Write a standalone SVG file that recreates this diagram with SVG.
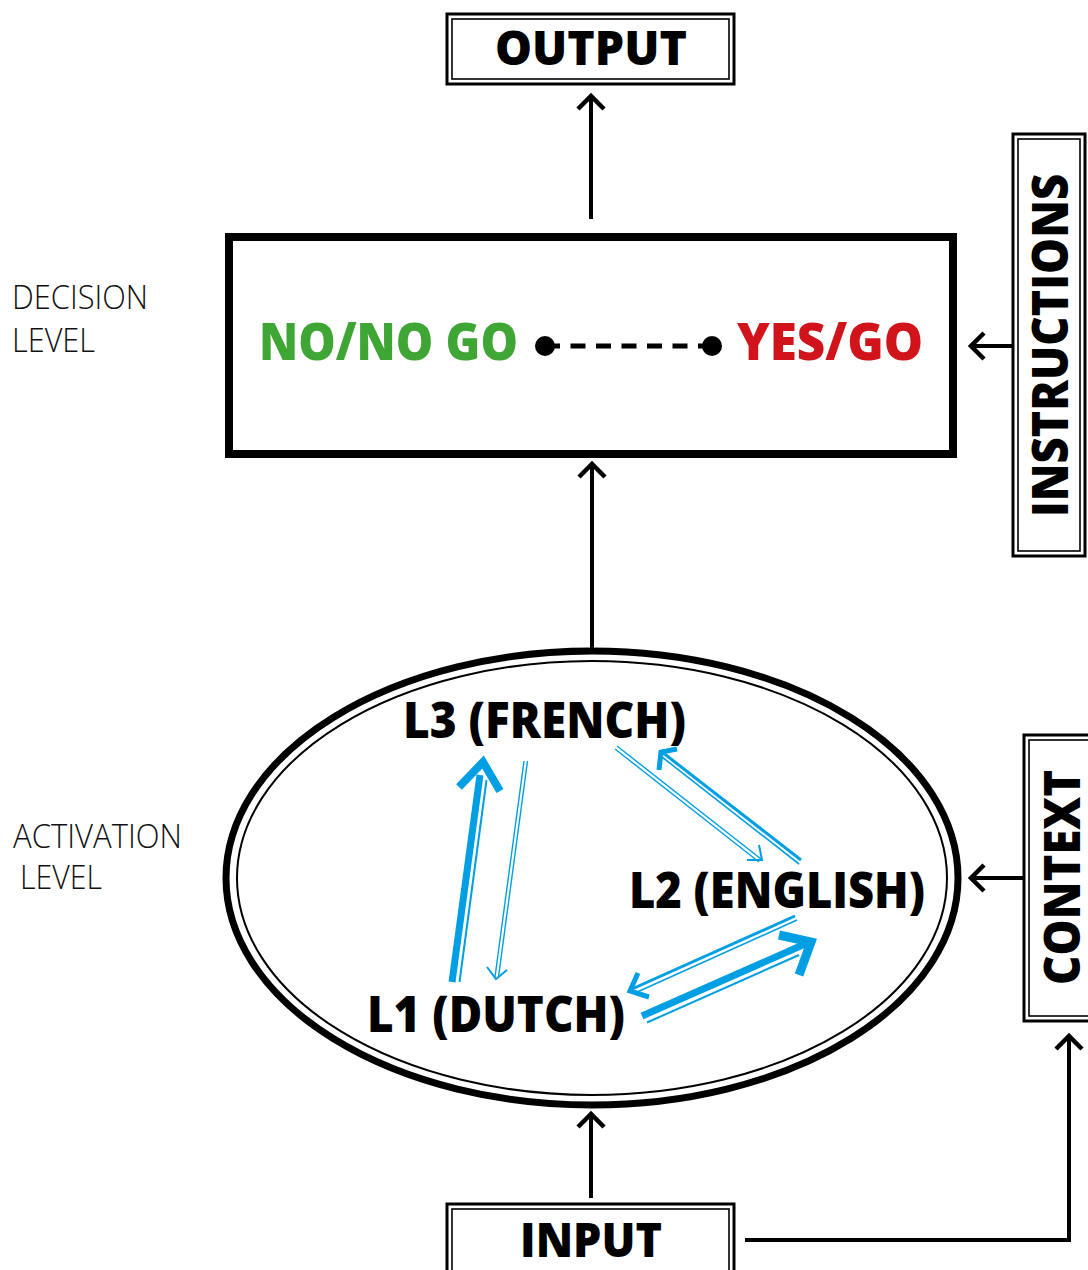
<svg xmlns="http://www.w3.org/2000/svg" width="1088" height="1270" viewBox="0 0 1088 1270">
<style>
.bold{font-family:"Open Sans","Liberation Sans",sans-serif;font-weight:800;fill:#000}
.light{font-family:"Open Sans","Lato","Liberation Sans",sans-serif;font-weight:300;font-size:33px;fill:#111}
.outer{fill:#fff;stroke:#000;stroke-width:3}
.inner{fill:none;stroke:#000;stroke-width:1.6}
.conn{fill:none;stroke:#000;stroke-width:4}
.head{fill:none;stroke:#000;stroke-width:4.5;stroke-linecap:butt;stroke-linejoin:miter}
.blue{fill:none;stroke:#009fe3;stroke-linecap:butt;stroke-linejoin:miter}
</style>
<rect width="1088" height="1270" fill="#fff"/>

<g id="connectors">
  <line class="conn" x1="591" y1="219" x2="591" y2="97"/>
  <polyline class="head" points="578,109 591,96 604,109"/>
  <line class="conn" x1="592" y1="648" x2="592" y2="465"/>
  <polyline class="head" points="579,477 592,464 605,477"/>
  <line class="conn" x1="1012" y1="346" x2="972" y2="346"/>
  <polyline class="head" points="984,333 971,346 984,359"/>
  <line class="conn" x1="1024" y1="878" x2="972" y2="878"/>
  <polyline class="head" points="984,865 971,878 984,891"/>
  <line class="conn" x1="591" y1="1198" x2="591" y2="1115"/>
  <polyline class="head" points="578,1127 591,1114 604,1127"/>
  <polyline class="conn" points="745,1240 1069,1240 1069,1037"/>
  <polyline class="head" points="1056,1049 1069,1036 1082,1049"/>
</g>

<g id="output">
  <rect class="outer" x="447" y="14" width="287" height="70"/>
  <rect class="inner" x="452" y="19" width="277" height="60"/>
  <text class="bold" x="495" y="65" font-size="48" textLength="192" lengthAdjust="spacingAndGlyphs">OUTPUT</text>
</g>

<g id="decision">
  <rect x="229" y="237" width="724" height="217" fill="#fff" stroke="#000" stroke-width="8"/>
  <text class="bold" x="259" y="360" font-size="52" style="fill:#3fa535" textLength="259" lengthAdjust="spacingAndGlyphs">NO/NO GO</text>
  <text class="bold" x="737" y="360" font-size="52" style="fill:#d1141b" textLength="186" lengthAdjust="spacingAndGlyphs">YES/GO</text>
  <line x1="545" y1="346" x2="712" y2="346" stroke="#000" stroke-width="5" stroke-dasharray="15 10.5"/>
  <circle cx="545" cy="346" r="10" fill="#000"/>
  <circle cx="712" cy="346" r="10" fill="#000"/>
</g>

<g id="decision-label">
  <text class="light" x="12" y="309" textLength="136" lengthAdjust="spacingAndGlyphs">DECISION</text>
  <text class="light" x="12" y="352" textLength="83" lengthAdjust="spacingAndGlyphs">LEVEL</text>
</g>

<g id="activation-label">
  <text class="light" x="13" y="848" textLength="169" lengthAdjust="spacingAndGlyphs">ACTIVATION</text>
  <text class="light" x="20" y="889" textLength="82" lengthAdjust="spacingAndGlyphs">LEVEL</text>
</g>

<g id="instructions">
  <rect class="outer" x="1013" y="134" width="72" height="422"/>
  <rect class="inner" x="1018" y="139" width="62" height="412"/>
  <text class="bold" transform="translate(1068,517) rotate(-90)" font-size="50" textLength="343" lengthAdjust="spacingAndGlyphs">INSTRUCTIONS</text>
</g>

<g id="context">
  <rect class="outer" x="1024" y="735" width="80" height="286"/>
  <rect class="inner" x="1029" y="740" width="70" height="276"/>
  <text class="bold" transform="translate(1080,985) rotate(-90)" font-size="50" textLength="215" lengthAdjust="spacingAndGlyphs">CONTEXT</text>
</g>

<g id="activation">
  <ellipse cx="592" cy="878" rx="366" ry="227" fill="#fff" stroke="#000" stroke-width="7"/>
  <ellipse cx="592" cy="878" rx="355" ry="217" fill="none" stroke="#000" stroke-width="2"/>
</g>

<g id="l3">
  <text class="bold" x="403" y="738" font-size="49" textLength="283" lengthAdjust="spacingAndGlyphs">L3 (FRENCH)</text>
</g>
<g id="l2">
  <text class="bold" x="629" y="908" font-size="49" textLength="296" lengthAdjust="spacingAndGlyphs">L2 (ENGLISH)</text>
</g>
<g id="l1">
  <text class="bold" x="367" y="1032" font-size="49" textLength="258" lengthAdjust="spacingAndGlyphs">L1 (DUTCH)</text>
</g>

<g id="blue-connectors">
  <line class="blue" x1="452" y1="982" x2="480" y2="775" stroke-width="7"/>
  <line class="blue" x1="459.5" y1="982" x2="486.5" y2="780" stroke-width="2"/>
  <polyline class="blue" points="459,787 483,762 500,791" stroke-width="8"/>
  <line class="blue" x1="524" y1="761" x2="495" y2="977" stroke-width="1.4"/>
  <line class="blue" x1="527.5" y1="761" x2="498.5" y2="977" stroke-width="1.4"/>
  <polyline class="blue" points="487,967 496,979 507,970" stroke-width="2"/>
  <line class="blue" x1="617" y1="746" x2="761" y2="859" stroke-width="1.4"/>
  <line class="blue" x1="615" y1="749" x2="759" y2="862" stroke-width="1.4"/>
  <polyline class="blue" points="747,860 762,860 759,845" stroke-width="2"/>
  <line class="blue" x1="801" y1="860" x2="662" y2="752" stroke-width="3"/>
  <line class="blue" x1="799" y1="864" x2="662" y2="757" stroke-width="1.6"/>
  <polyline class="blue" points="677,749 661,752 659,770" stroke-width="5"/>
  <line class="blue" x1="795" y1="916" x2="632" y2="989" stroke-width="3"/>
  <line class="blue" x1="797" y1="920" x2="635" y2="993" stroke-width="1.6"/>
  <polyline class="blue" points="638,973 630,991 649,997" stroke-width="5"/>
  <line class="blue" x1="642" y1="1016" x2="805" y2="944" stroke-width="7"/>
  <line class="blue" x1="647" y1="1022.5" x2="799" y2="955" stroke-width="2"/>
  <polyline class="blue" points="779,935 811,942 799,975" stroke-width="9"/>
</g>

<g id="input">
  <rect class="outer" x="447" y="1204" width="287" height="80"/>
  <rect class="inner" x="452" y="1209" width="277" height="80"/>
  <text class="bold" x="520" y="1257" font-size="48" textLength="142" lengthAdjust="spacingAndGlyphs">INPUT</text>
</g>
</svg>
